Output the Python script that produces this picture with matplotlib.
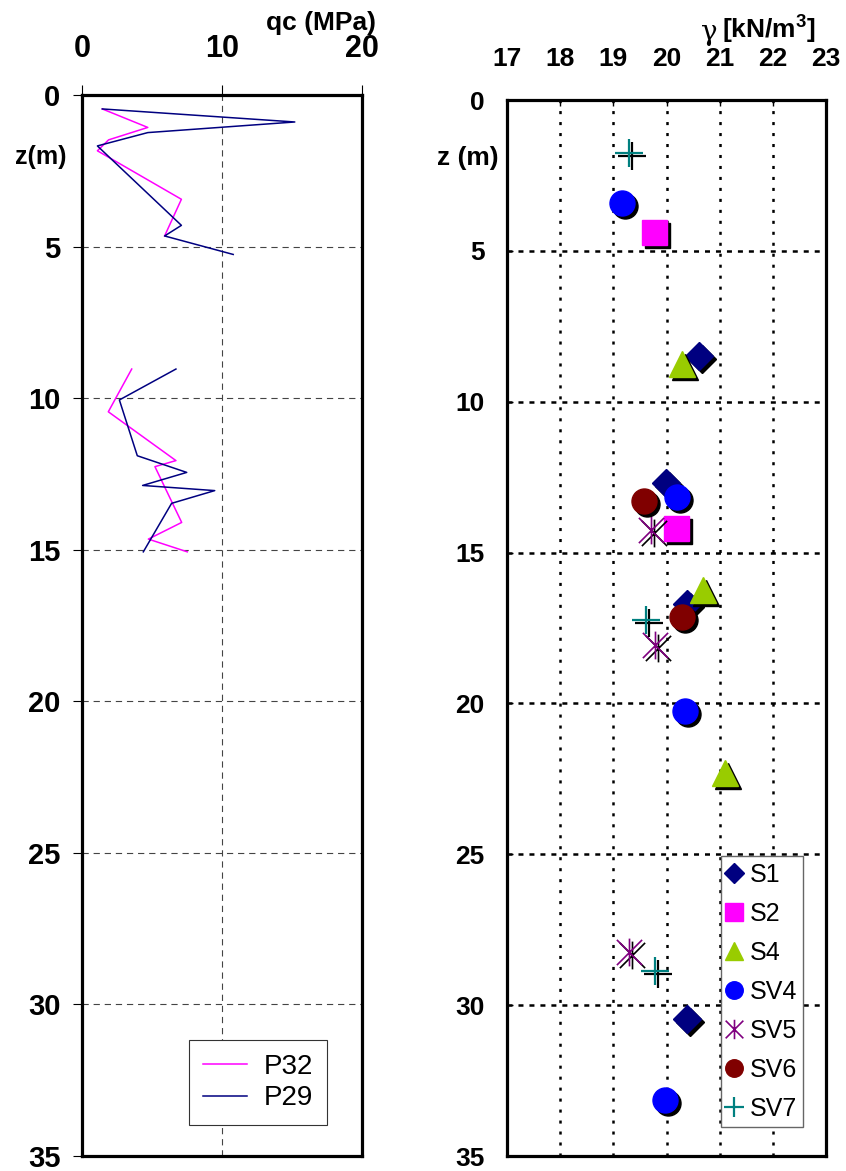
import numpy as np
import matplotlib.pyplot as plt
from matplotlib.path import Path
from matplotlib.transforms import offset_copy

plt.rcParams['font.family'] = ['Liberation Sans', 'DejaVu Sans']
plt.rcParams['lines.scale_dashes'] = False
plt.rcParams['mathtext.fontset'] = 'custom'
plt.rcParams['mathtext.bf'] = 'Liberation Sans:bold'
plt.rcParams['mathtext.rm'] = 'Liberation Sans'

# CPT cone resistance profiles (qc in MPa vs depth in m), gap between runs
p32_z = [0.46, 1.07, 1.48, 1.84, 3.44, 4.65, np.nan,
         9.04, 10.45, 12.06, 12.26, 14.1, 14.65, 15.07]
p32_qc = [1.45, 4.7, 1.9, 1.1, 7.1, 5.9, np.nan,
          3.55, 1.88, 6.71, 5.21, 7.12, 4.74, 7.52]
p29_z = [0.46, 0.89, 1.24, 1.68, 4.3, 4.65, 5.26, np.nan,
         9.04, 10.06, 11.9, 12.45, 12.88, 13.05, 13.47, 15.07]
p29_qc = [1.45, 15.2, 4.7, 1.1, 7.1, 5.9, 10.8, np.nan,
          6.71, 2.67, 3.95, 7.48, 4.33, 9.48, 6.4, 4.38]

# unit weight samples per borehole
s1_gamma = [20.62, 19.99, 20.38, 20.39]
s1_z = [8.5, 12.7, 16.7, 30.45]
s2_gamma = [19.76, 20.18]
s2_z = [4.36, 14.2]
s4_gamma = [20.29, 20.69, 21.1]
s4_z = [8.75, 16.25, 22.3]
sv4_gamma = [19.17, 20.2, 20.35, 19.97]
sv4_z = [3.4, 13.16, 20.25, 33.15]
sv5_gamma = [19.71, 19.78, 19.29]
sv5_z = [14.25, 18.07, 28.25]
sv6_gamma = [19.58, 20.29]
sv6_z = [13.3, 17.15]
sv7_gamma = [19.29, 19.61, 19.78]
sv7_z = [1.77, 17.24, 28.86]

asterisk = Path([(-1, -1), (1, 1), (-1, 1), (1, -1), (0, -1.1), (0, 1.1)],
                [Path.MOVETO, Path.LINETO, Path.MOVETO, Path.LINETO,
                 Path.MOVETO, Path.LINETO])

samples = [
    ('S1', s1_gamma, s1_z, dict(marker='D', ms=14, color='#000080')),
    ('S2', s2_gamma, s2_z, dict(marker='s', ms=18, color='#FF00FF')),
    ('S4', s4_gamma, s4_z, dict(marker='^', ms=19, color='#99CC00')),
    ('SV4', sv4_gamma, sv4_z, dict(marker='o', ms=18, color='#0000FF')),
    ('SV5', sv5_gamma, sv5_z, dict(marker=asterisk, ms=20, color='#800080',
                                   mew=1.2, mfc='none')),
    ('SV6', sv6_gamma, sv6_z, dict(marker='o', ms=18, color='#800000')),
    ('SV7', sv7_gamma, sv7_z, dict(marker='+', ms=20, color='#008080', mew=1.6)),
]

W, H = 846, 1171
fig = plt.figure(figsize=(W / 100, H / 100), dpi=100)

# --- left: cone resistance
ax1 = fig.add_axes([82 / W, 15 / H, 280 / W, 1061 / H])
ax1.plot(p32_qc, p32_z, color='#FF00FF', lw=1.1, label='P32')
ax1.plot(p29_qc, p29_z, color='#000080', lw=1.1, label='P29')
ax1.set_xlim(0, 20)
ax1.set_ylim(35, 0)
ax1.set_xticks([0, 10, 20])
ax1.set_yticks(np.arange(0, 36, 5))
ax1.xaxis.tick_top()
ax1.tick_params(axis='x', direction='out', length=7, width=0.8, pad=15,
                labelsize=22)
ax1.tick_params(axis='y', direction='out', length=6.5, width=0.8, pad=9,
                labelsize=21)
for lab in ax1.get_xticklabels() + ax1.get_yticklabels():
    lab.set_fontweight('bold')
ax1.grid(True, linestyle=(0, (4.5, 3.5)), color='#444444', lw=0.8)
ax1.set_axisbelow(True)
for sp in ax1.spines.values():
    sp.set_linewidth(2.3)
ax1.legend(loc='lower right', bbox_to_anchor=(0.875, 0.029), borderaxespad=0,
           fontsize=20, fancybox=False, framealpha=1, edgecolor='#333333',
           handlelength=1.6, labelspacing=0.2, borderpad=0.5,
           handletextpad=0.6).get_frame().set_linewidth(0.8)

# --- right: unit weight
ax2 = fig.add_axes([507 / W, 15 / H, 319 / W, 1056 / H])
shadow = offset_copy(ax2.transData, fig=fig, x=3, y=-3, units='dots')
for name, g, z, style in samples:
    sh = dict(style)
    sh['color'] = 'black'
    ax2.plot(g, z, ls='none', transform=shadow, **sh)
    ax2.plot(g, z, ls='none', label=name, **style)
ax2.set_xlim(17, 23)
ax2.set_ylim(35, 0)
ax2.set_xticks(np.arange(17, 24, 1))
ax2.set_yticks(np.arange(0, 36, 5))
ax2.xaxis.tick_top()
ax2.tick_params(axis='x', direction='in', length=4, width=1, pad=21,
                labelsize=19)
ax2.tick_params(axis='y', direction='in', length=4, width=1, pad=16,
                labelsize=19)
for lab in ax2.get_xticklabels() + ax2.get_yticklabels():
    lab.set_fontweight('bold')
ax2.xaxis.grid(True, linestyle=(0, (2.2, 5.7)), color='black', lw=1.8)
ax2.yaxis.grid(True, linestyle=(0, (3.6, 4.3)), color='black', lw=1.8)
ax2.set_axisbelow(True)
for sp in ax2.spines.values():
    sp.set_linewidth(2.3)
leg = ax2.legend(loc='lower right', bbox_to_anchor=(0.928, 0.0275),
                 borderaxespad=0, fontsize=18, fancybox=False, framealpha=1,
                 edgecolor='#666666', numpoints=1, markerscale=0.7,
                 handlelength=0.6, handletextpad=0.3, labelspacing=0.6,
                 borderpad=0.25)
leg.get_frame().set_linewidth(1.0)

# axis titles
fig.text(321 / W, 1 - 23 / H, 'qc (MPa)', ha='center', va='center',
         fontsize=19, fontweight='bold')
fig.text(41 / W, 1 - 157 / H, 'z(m)', ha='center', va='center',
         fontsize=18, fontweight='bold')
fig.text(468 / W, 1 - 158 / H, 'z (m)', ha='center', va='center',
         fontsize=19, fontweight='bold')
fig.text(709 / W, 1 - 32 / H, 'γ', ha='center', va='center',
         fontsize=20, family='DejaVu Serif')
fig.text(722 / W, 1 - 29 / H, r'[kN/m$^{\mathbf{3}}$]', ha='left',
         va='center', fontsize=19, fontweight='bold')

plt.savefig('out.png', dpi=100)
